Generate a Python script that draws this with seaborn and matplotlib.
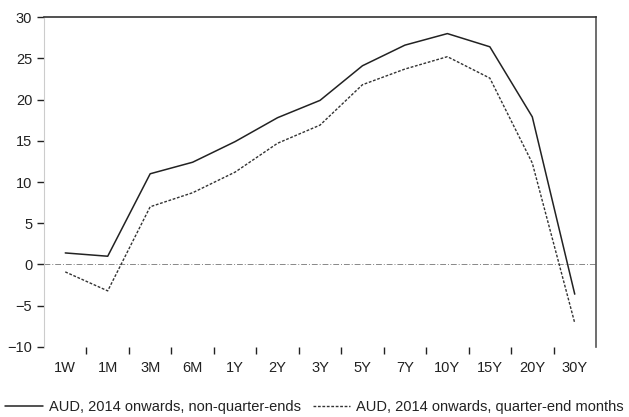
import pandas as pd
import seaborn as sns
import matplotlib.pyplot as plt
from matplotlib.ticker import FixedLocator

tenors = ["1W", "1M", "3M", "6M", "1Y", "2Y", "3Y", "5Y", "7Y", "10Y", "15Y", "20Y", "30Y"]
non_qe = [1.4, 1.0, 11.0, 12.4, 14.9, 17.8, 19.9, 24.1, 26.6, 28.0, 26.4, 17.9, -3.6]
qe = [-0.9, -3.2, 7.0, 8.7, 11.2, 14.7, 16.9, 21.8, 23.7, 25.2, 22.6, 12.3, -7.1]

label_a = "AUD, 2014 onwards, non-quarter-ends"
label_b = "AUD, 2014 onwards, quarter-end months"

df = pd.DataFrame({"Tenor": tenors, "a": non_qe, "b": qe})

sns.set_style("white")
plt.rcParams["font.family"] = ["Liberation Sans", "DejaVu Sans"]

fig = plt.figure(figsize=(6.29, 4.17), dpi=100)
ax = fig.add_axes([0.07, 0.168, 0.8775, 0.791])

ax.axhline(0, color="#888888", linewidth=0.7, linestyle=(0, (6, 2, 1, 2)), zorder=1)
sns.lineplot(data=df, x="Tenor", y="a", color="#222222", linewidth=1.1, ax=ax, label=label_a, sort=False)
sns.lineplot(data=df, x="Tenor", y="b", color="#333333", linewidth=1.0, linestyle=(0, (2, 1.2)),
             ax=ax, label=label_b, sort=False)

ax.set_xlim(-0.5, len(tenors) - 0.5)
ax.set_ylim(-10, 30)
ax.set_yticks(range(-10, 31, 5))
ax.set_xlabel("")
ax.set_ylabel("")

ax.xaxis.set_minor_locator(FixedLocator([i + 0.5 for i in range(len(tenors) - 1)]))
ax.tick_params(axis="x", which="major", bottom=False, length=0, pad=10, labelsize=10.5, colors="#222222")
ax.tick_params(axis="x", which="minor", bottom=True, length=5, width=1, color="#222222", direction="out")
ax.tick_params(axis="y", left=True, length=5, width=1, color="#222222", direction="out", labelsize=10.5,
               labelcolor="#222222")

ax.spines["top"].set_color("#333333")
ax.spines["right"].set_color("#555555")
ax.spines["left"].set_color("#cccccc")
ax.spines["bottom"].set_visible(False)
for s in ["top", "right"]:
    ax.spines[s].set_linewidth(1.2)

ax.get_legend().remove()
handles, labels = ax.get_legend_handles_labels()
fig.legend(handles, labels, loc="lower center", bbox_to_anchor=(0.5, -0.025), ncol=2, frameon=False,
           fontsize=10.5, handlelength=2.6, handletextpad=0.4, columnspacing=0.8, labelcolor="#222222")

fig.savefig("out.png", dpi=100)
